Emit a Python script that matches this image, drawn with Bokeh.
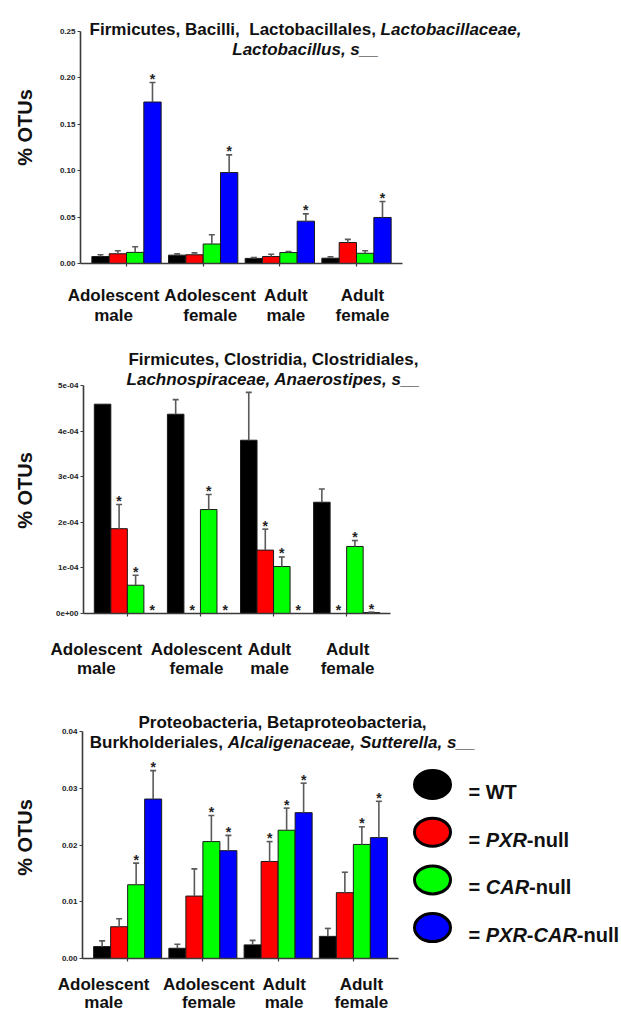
import math
import re
from bokeh.plotting import figure
from bokeh.models import Label, FixedTicker, Range1d
from bokeh.layouts import column
from bokeh.embed import file_html
from bokeh.resources import INLINE
from bokeh.core.properties import value

FONT = "Liberation Sans"

# ---------------- data ----------------
age_groups = ["Adolescent", "Adolescent", "Adult", "Adult"]
sexes = ["male", "female", "male", "female"]
genotypes = ["WT", "PXR-null", "CAR-null", "PXR-CAR-null"]
genotype_colors = ["#000000", "#ff0000", "#00ff00", "#0000ff"]

# Panel 1: Lactobacillus (% OTUs)
lacto_wt = [0.0075, 0.0090, 0.0055, 0.0057]
lacto_pxr = [0.0105, 0.0094, 0.0075, 0.0226]
lacto_car = [0.0120, 0.0210, 0.0118, 0.0110]
lacto_dko = [0.1740, 0.0980, 0.0456, 0.0496]
lacto_wt_sem = [0.0019, 0.0014, 0.0010, 0.0015]
lacto_pxr_sem = [0.0032, 0.0021, 0.0025, 0.0034]
lacto_car_sem = [0.0060, 0.0100, 0.0012, 0.0027]
lacto_dko_sem = [0.0210, 0.0190, 0.0079, 0.0172]
lacto_wt_sig = [0, 0, 0, 0]
lacto_pxr_sig = [0, 0, 0, 0]
lacto_car_sig = [0, 0, 0, 0]
lacto_dko_sig = [1, 1, 1, 1]
lacto_ticks = [0.0, 0.05, 0.10, 0.15, 0.20, 0.25]
lacto_tick_labels = ["0.00", "0.05", "0.10", "0.15", "0.20", "0.25"]

# Panel 2: Anaerostipes (% OTUs)
ana_wt = [4.59e-4, 4.37e-4, 3.80e-4, 2.44e-4]
ana_pxr = [1.86e-4, 0.0, 1.39e-4, 0.0]
ana_car = [0.62e-4, 2.28e-4, 1.03e-4, 1.47e-4]
ana_dko = [0.0, 0.0, 0.0, 0.02e-4]
ana_wt_sem = [0.0, 0.32e-4, 1.05e-4, 0.29e-4]
ana_pxr_sem = [0.53e-4, 0.0, 0.46e-4, 0.0]
ana_car_sem = [0.22e-4, 0.33e-4, 0.21e-4, 0.13e-4]
ana_dko_sem = [0.0, 0.0, 0.0, 0.01e-4]
ana_wt_sig = [0, 0, 0, 0]
ana_pxr_sig = [1, 1, 1, 1]
ana_car_sig = [1, 1, 1, 1]
ana_dko_sig = [1, 1, 1, 1]
ana_ticks = [0.0, 1e-4, 2e-4, 3e-4, 4e-4, 5e-4]
ana_tick_labels = ["0e+00", "1e-04", "2e-04", "3e-04", "4e-04", "5e-04"]

# Panel 3: Sutterella (% OTUs)
sut_wt = [0.0021, 0.0018, 0.0024, 0.0039]
sut_pxr = [0.0056, 0.0110, 0.0171, 0.0116]
sut_car = [0.0130, 0.0206, 0.0226, 0.0201]
sut_dko = [0.0281, 0.0190, 0.0257, 0.0213]
sut_wt_sem = [0.0010, 0.0007, 0.0008, 0.0014]
sut_pxr_sem = [0.0014, 0.0048, 0.0035, 0.0036]
sut_car_sem = [0.0038, 0.0046, 0.0039, 0.0031]
sut_dko_sem = [0.0050, 0.0027, 0.0052, 0.0064]
sut_wt_sig = [0, 0, 0, 0]
sut_pxr_sig = [0, 0, 1, 0]
sut_car_sig = [1, 1, 1, 1]
sut_dko_sig = [1, 1, 1, 1]
sut_ticks = [0.0, 0.01, 0.02, 0.03, 0.04]
sut_tick_labels = ["0.00", "0.01", "0.02", "0.03", "0.04"]

y_title = "% OTUs"

# ---------------- helpers ----------------
ADV = {' ': 278, ',': 278, '-': 333, '.': 278, '_': 556, '=': 584, '%': 889,
       'A': 722, 'B': 722, 'C': 722, 'D': 722, 'E': 667, 'F': 611, 'G': 778, 'H': 722,
       'I': 278, 'J': 556, 'K': 722, 'L': 611, 'M': 833, 'N': 722, 'O': 778, 'P': 667,
       'Q': 778, 'R': 722, 'S': 667, 'T': 611, 'U': 722, 'V': 667, 'W': 944, 'X': 667,
       'Y': 667, 'Z': 611,
       'a': 556, 'b': 611, 'c': 556, 'd': 611, 'e': 556, 'f': 333, 'g': 611, 'h': 611,
       'i': 278, 'j': 278, 'k': 556, 'l': 278, 'm': 889, 'n': 611, 'o': 611, 'p': 611,
       'q': 611, 'r': 389, 's': 556, 't': 333, 'u': 611, 'v': 556, 'w': 778, 'x': 556,
       'y': 556, 'z': 500}


def text_width(s, size):
    return sum(ADV.get(c, 556) for c in s) / 1000.0 * size


W = 621
BW = 0.226
X0, X_AXIS_END = -0.6, 3.6
AXIS_COLOR = "#3a3a3a"
ERR_COLOR = "#5a5a5a"


def make_panel(F, H, L, R, T, B, ymax, ticks, tick_labels,
               series, sems, sigs, title_lines, title_center, title_baselines,
               cat_shifts, cat_baselines, ylab_center):
    ppu = (R - L) / (X_AXIS_END - X0)

    def px2x(px):
        return X0 + (px - L) / ppu

    def py2y(py):
        return (B - py) / (B - T) * ymax

    p = figure(width=W, height=H,
               x_range=Range1d(px2x(0), px2x(W)), y_range=Range1d(py2y(F + H), py2y(F)),
               output_backend="svg", toolbar_location=None,
               min_border=0, min_border_left=0, min_border_right=0,
               min_border_top=0, min_border_bottom=0)
    p.outline_line_color = None
    p.xgrid.visible = False
    p.ygrid.visible = False

    for gi, (vals, sem, sig, col) in enumerate(zip(series, sems, sigs, genotype_colors)):
        xs = [i + (gi - 1.5) * BW for i in range(len(vals))]
        p.vbar(x=xs, top=vals, bottom=0, width=BW, fill_color=col,
               line_color="#1a1a1a", line_width=1)
        ex = [x for x, s in zip(xs, sem) if s > 0]
        ev = [v for v, s in zip(vals, sem) if s > 0]
        eu = [v + s for v, s in zip(vals, sem) if s > 0]
        if ex:
            p.segment(x0=ex, y0=ev, x1=ex, y1=eu, line_color=ERR_COLOR, line_width=1.6)
            p.scatter(x=ex, y=eu, marker="dash", size=6, line_color=ERR_COLOR, line_width=1.6)
        sx = [x for x, f in zip(xs, sig) if f]
        sy = [v + s for v, s, f in zip(vals, sem, sig) if f]
        if sx:
            p.text(x=sx, y=sy, text=["*"] * len(sx), text_font=value(FONT),
                   text_font_style="bold", text_font_size="14px", text_align="center",
                   text_baseline="alphabetic", y_offset=-3.5, text_color="#222222")

    # axes (library axes pinned to the data origin)
    yax = p.yaxis[0]
    yax.fixed_location = X0
    yax.bounds = (0, ymax)
    yax.ticker = FixedTicker(ticks=ticks)
    yax.major_label_overrides = {t: lab for t, lab in zip(ticks, tick_labels)}
    yax.major_label_text_font = FONT
    yax.major_label_text_font_style = "bold"
    yax.major_label_text_font_size = "8px"
    yax.major_label_text_color = "#222222"
    yax.major_label_standoff = 2
    yax.axis_line_color = AXIS_COLOR
    yax.axis_line_width = 1.6
    yax.major_tick_line_color = AXIS_COLOR
    yax.major_tick_line_width = 1.2
    yax.major_tick_out = 3
    yax.major_tick_in = 0
    yax.minor_tick_line_color = None

    xax = p.xaxis[0]
    xax.fixed_location = 0
    xax.bounds = (X0, X_AXIS_END)
    xax.ticker = FixedTicker(ticks=list(range(len(age_groups))))
    xax.major_label_overrides = {i: "" for i in range(len(age_groups))}
    xax.axis_line_color = AXIS_COLOR
    xax.axis_line_width = 1.6
    xax.major_tick_line_color = AXIS_COLOR
    xax.major_tick_line_width = 1.2
    xax.major_tick_out = 3
    xax.major_tick_in = 0
    xax.minor_tick_line_color = None

    # title (mixed bold / bold italic)
    for segs, base in zip(title_lines, title_baselines):
        total = sum(text_width(s, 17) for s, _ in segs)
        cur = title_center - total / 2.0
        for s, ital in segs:
            lead = len(s) - len(s.lstrip(" "))
            p.add_layout(Label(x=px2x(cur + text_width(" " * lead, 17)), y=py2y(base),
                               text=s.strip(), text_font=FONT,
                               text_font_style="bold italic" if ital else "bold",
                               text_font_size="17px", text_align="left",
                               text_baseline="alphabetic", text_color="#111111"))
            cur += text_width(s, 17)

    # category labels
    for i, (a, sx_, shift) in enumerate(zip(age_groups, sexes, cat_shifts)):
        for txt, base in zip((a, sx_), cat_baselines):
            p.add_layout(Label(x=i, x_offset=shift, y=py2y(base), text=txt, text_font=FONT,
                               text_font_style="bold", text_font_size="17px",
                               text_align="center", text_baseline="alphabetic",
                               text_color="#111111"))

    # y title
    p.add_layout(Label(x=px2x(24), y=py2y(ylab_center), text=y_title, angle=math.pi / 2,
                       text_font=FONT, text_font_style="bold", text_font_size="20px",
                       text_align="center", text_baseline="middle", text_color="#111111"))
    return p, px2x, py2y


p1, _, _ = make_panel(
    0, 330, 80, 402, 31, 263, 0.25, lacto_ticks, lacto_tick_labels,
    [lacto_wt, lacto_pxr, lacto_car, lacto_dko],
    [lacto_wt_sem, lacto_pxr_sem, lacto_car_sem, lacto_dko_sem],
    [lacto_wt_sig, lacto_pxr_sig, lacto_car_sig, lacto_dko_sig],
    [[("Firmicutes, Bacilli,", False), ("  Lactobacillales,", False), (" Lactobacillaceae,", True)],
     [("Lactobacillus, s__", True)]],
    305, [29, 49], [-13, 7, 6, 6], [295, 315], 127)

p2, _, _ = make_panel(
    330, 355, 83, 390, 385, 613, 5e-4, ana_ticks, ana_tick_labels,
    [ana_wt, ana_pxr, ana_car, ana_dko],
    [ana_wt_sem, ana_pxr_sem, ana_car_sem, ana_dko_sem],
    [ana_wt_sig, ana_pxr_sig, ana_car_sig, ana_dko_sig],
    [[("Firmicutes, Clostridia, Clostridiales,", False)],
     [("Lachnospiraceae, Anaerostipes, s__", True)]],
    273, [359, 379], [-31, -4, -4, 1], [649, 668], 490)

p3, px2x3, py2y3 = make_panel(
    685, 329, 82, 398, 731, 958, 0.04, sut_ticks, sut_tick_labels,
    [sut_wt, sut_pxr, sut_car, sut_dko],
    [sut_wt_sem, sut_pxr_sem, sut_car_sem, sut_dko_sem],
    [sut_wt_sig, sut_pxr_sig, sut_car_sig, sut_dko_sig],
    [[("Proteobacteria, Betaproteobacteria,", False)],
     [("Burkholderiales,", False), (" Alcaligenaceae, Sutterella, s__", True)]],
    282, [722, 742], [-24, 6, 6, 8], [984, 1002], 837)

# legend (inside panel 3, right of the bars)
leg_x_px = 432
leg_y_px = [784 + k * 47.7 for k in range(len(genotypes))]
p3.ellipse(x=[px2x3(leg_x_px)] * len(genotypes), y=[py2y3(v) for v in leg_y_px],
           width=36, height=28, width_units="screen", height_units="screen",
           fill_color=genotype_colors, line_color="#000000", line_width=3)
for name, ypx in zip(genotypes, leg_y_px):
    segs = [("=", False)] + [(t, t in ("PXR", "CAR")) for t in re.split("(-)", name) if t]
    cur = 468
    for k, (t, ital) in enumerate(segs):
        p3.add_layout(Label(x=px2x3(cur), y=py2y3(ypx + 7.5), text=t, text_font=FONT,
                            text_font_style="bold italic" if ital else "bold",
                            text_font_size="20px", text_align="left",
                            text_baseline="alphabetic", text_color="#111111"))
        cur += text_width(t, 20) + (text_width(" ", 20) if k == 0 else 0)

layout = column(p1, p2, p3)
open("out.html", "w").write(file_html(layout, INLINE))
